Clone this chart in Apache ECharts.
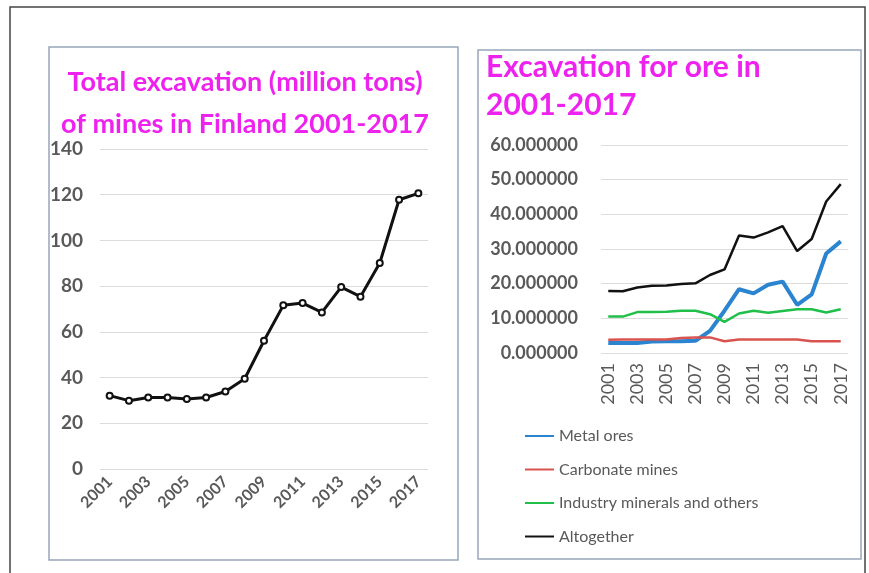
<!DOCTYPE html>
<html>
<head>
<meta charset="utf-8">
<script src="https://cdn.jsdelivr.net/npm/echarts@6/dist/echarts.min.js"></script>
<style>
html,body{margin:0;padding:0;background:#fff;}
#c{width:869px;height:573px;}
</style>
</head>
<body>
<div id="c"></div>
<script>
const years = ['2001','2002','2003','2004','2005','2006','2007','2008','2009','2010','2011','2012','2013','2014','2015','2016','2017'];
const totalExcavation = [32.1,29.9,31.3,31.3,30.6,31.3,33.9,39.5,56.1,71.6,72.6,68.5,79.6,75.4,90.1,117.8,120.6];
const metalOres = [2.9,2.9,2.9,3.3,3.4,3.4,3.5,6.4,12.2,18.4,17.2,19.7,20.6,13.9,16.9,28.7,32.2];
const carbonateMines = [3.8,3.9,3.9,3.9,3.9,4.3,4.5,4.5,3.4,3.9,3.9,3.9,3.9,3.9,3.4,3.4,3.4];
const industryMinerals = [10.5,10.5,11.8,11.8,11.9,12.2,12.2,11.2,9.0,11.4,12.2,11.6,12.1,12.6,12.6,11.7,12.6];
const altogether = [17.9,17.8,18.9,19.4,19.5,19.9,20.1,22.5,24.1,33.9,33.3,34.8,36.6,29.4,32.9,43.7,48.7];
const leftTicks = [0,20,40,60,80,100,120,140];
const rightTicks = [0,10,20,30,40,50,60];

const chart = echarts.init(document.getElementById('c'));
const labelColor = '#595959';
const fontFam = 'Lato, "Open Sans", sans-serif';
chart.setOption({
  animation: false,
  backgroundColor: '#fff',
  graphic: [
    {type:'rect', shape:{x:10,y:7,width:855,height:600}, style:{fill:'none', stroke:'#444', lineWidth:1.5}, z:-1},
    {type:'rect', shape:{x:49,y:47,width:409,height:513}, style:{fill:'none', stroke:'#98a6bb', lineWidth:1.5}, z:-1},
    {type:'rect', shape:{x:478,y:50,width:383,height:509}, style:{fill:'none', stroke:'#98a6bb', lineWidth:1.5}, z:-1}
  ],
  title: [
    {text:'Total excavation (million tons)\nof mines in Finland 2001-2017', left:245, top:61, textAlign:'center', padding:0,
     textStyle:{color:'#ee22ee', fontSize:27, fontWeight:'bold', fontFamily:fontFam, lineHeight:42}},
    {text:'Excavation for ore in\n2001-2017', left:486, top:48, padding:0,
     textStyle:{color:'#ee22ee', fontSize:30, fontWeight:'bold', fontFamily:fontFam, lineHeight:38}}
  ],
  legend: {
    orient:'vertical', left:524, top:428, padding:0, itemWidth:29, itemHeight:14, itemGap:17.5,
    itemStyle:{opacity:0},
    data:['Metal ores','Carbonate mines','Industry minerals and others','Altogether'],
    textStyle:{color:labelColor, fontSize:16, fontFamily:fontFam}
  },
  grid: [
    {left:100, right:441, top:149, bottom:104, containLabel:false},
    {left:601, right:21, top:145, bottom:220, containLabel:false}
  ],
  xAxis: [
    {type:'category', gridIndex:0, data:years, boundaryGap:true,
     axisLine:{show:false}, axisTick:{show:false},
     axisLabel:{interval:1, rotate:45, color:labelColor, fontSize:16, fontWeight:'bold', fontFamily:fontFam, margin:10}},
    {type:'category', gridIndex:1, data:years, boundaryGap:true,
     axisLine:{show:false}, axisTick:{show:false},
     axisLabel:{interval:1, rotate:90, color:labelColor, fontSize:18, fontFamily:fontFam, margin:10}}
  ],
  yAxis: [
    {type:'value', gridIndex:0, min:0, max:140, interval:20,
     axisLine:{show:false}, axisTick:{show:false},
     splitLine:{lineStyle:{color:'#dcdcdc', width:1}},
     axisLabel:{color:labelColor, fontSize:19, fontWeight:'bold', fontFamily:fontFam, margin:17,
       formatter: v => leftTicks.includes(v) ? String(v) : ''}},
    {type:'value', gridIndex:1, min:0, max:60, interval:10,
     axisLine:{show:false}, axisTick:{show:false},
     splitLine:{lineStyle:{color:'#dcdcdc', width:1}},
     axisLabel:{color:labelColor, fontSize:18, fontWeight:'bold', fontFamily:fontFam, margin:23,
       formatter: v => rightTicks.includes(v) ? v.toFixed(6) : ''}}
  ],
  series: [
    {name:'Total', type:'line', xAxisIndex:0, yAxisIndex:0, data:totalExcavation,
     symbol:'circle', symbolSize:6, lineStyle:{color:'#111', width:3},
     itemStyle:{color:'#fff', borderColor:'#111', borderWidth:2}},
    {name:'Metal ores', type:'line', xAxisIndex:1, yAxisIndex:1, data:metalOres, symbol:'none',
     color:'#2a84cf', lineStyle:{color:'#2a84cf', width:4}},
    {name:'Carbonate mines', type:'line', xAxisIndex:1, yAxisIndex:1, data:carbonateMines, symbol:'none',
     color:'#d9534f', lineStyle:{color:'#d9534f', width:2.5}},
    {name:'Industry minerals and others', type:'line', xAxisIndex:1, yAxisIndex:1, data:industryMinerals, symbol:'none',
     color:'#1fbf4a', lineStyle:{color:'#1fbf4a', width:2.5}},
    {name:'Altogether', type:'line', xAxisIndex:1, yAxisIndex:1, data:altogether, symbol:'none',
     color:'#111', lineStyle:{color:'#111', width:2.5}}
  ]
});
</script>
</body>
</html>
